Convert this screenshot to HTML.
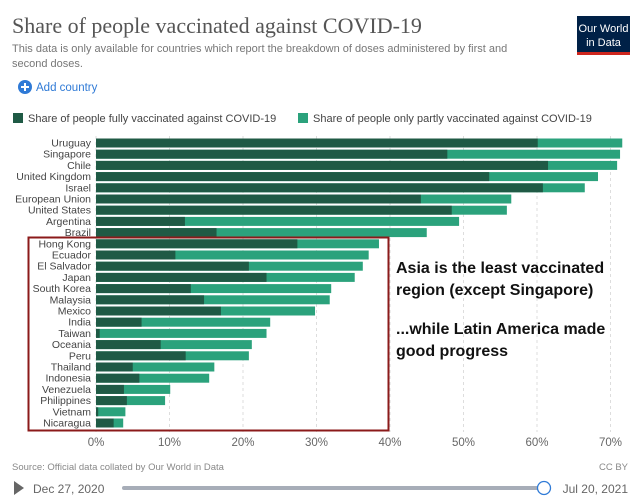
<!DOCTYPE html>
<html><head><meta charset="utf-8"><style>
body{margin:0;background:#fff;width:639px;height:500px;overflow:hidden;font-family:"Liberation Sans",sans-serif;}
svg{display:block}
</style></head><body>
<svg id="chart" width="639" height="500" xmlns="http://www.w3.org/2000/svg">
<text x="12" y="33" font-family="Liberation Serif,serif" font-size="22" fill="#555">Share of people vaccinated against COVID-19</text>
<text x="12" y="52" font-size="11" fill="#777">This data is only available for countries which report the breakdown of doses administered by first and</text>
<text x="12" y="67" font-size="11" fill="#777">second doses.</text>
<g><rect x="577" y="16" width="53" height="39" fill="#002147"/><rect x="577" y="52" width="53" height="3" fill="#ce261e"/>
<text x="603.5" y="32" font-size="11" fill="#fff" text-anchor="middle">Our World</text><text x="603.5" y="46" font-size="11" fill="#fff" text-anchor="middle">in Data</text></g>
<g><circle cx="25" cy="87" r="7" fill="#2f7ad6"/><path d="M21 87h8M25 83v8" stroke="#fff" stroke-width="2"/>
<text x="36" y="91" font-size="11.5" fill="#2f7ad6">Add country</text></g>
<g><rect x="13" y="113" width="10" height="10" fill="#1f5a45"/>
<text x="28" y="122" font-size="11" fill="#444">Share of people fully vaccinated against COVID-19</text>
<rect x="298" y="113" width="10" height="10" fill="#2ba27c"/>
<text x="313" y="122" font-size="11" fill="#444">Share of people only partly vaccinated against COVID-19</text></g>
<g id="grid"></g><g id="bars"></g><g id="ticks"></g>
<rect x="28.5" y="237.5" width="360" height="193" fill="none" stroke="#8b1a1a" stroke-width="2"/>
<g font-size="16" font-weight="bold" fill="#111">
<text x="396" y="273">Asia is the least vaccinated</text><text x="396" y="295">region (except Singapore)</text>
<text x="396" y="334">...while Latin America made</text><text x="396" y="356">good progress</text></g>
<text x="12" y="470" font-size="9.5" fill="#888">Source: Official data collated by Our World in Data</text>
<text x="628" y="470" font-size="9.5" fill="#888" text-anchor="end">CC BY</text>
<path d="M14 481l10 7-10 7z" fill="#666"/>
<text x="33" y="493" font-size="12" fill="#666">Dec 27, 2020</text>
<rect x="122" y="486" width="422" height="4" rx="2" fill="#a7adb8"/>
<circle cx="544" cy="488" r="6.5" fill="#fff" stroke="#2f7ad6" stroke-width="1.3"/>
<text x="628" y="493" font-size="12" fill="#666" text-anchor="end">Jul 20, 2021</text>
</svg>
<script>
const countries=["Uruguay","Singapore","Chile","United Kingdom","Israel","European Union","United States","Argentina","Brazil","Hong Kong","Ecuador","El Salvador","Japan","South Korea","Malaysia","Mexico","India","Taiwan","Oceania","Peru","Thailand","Indonesia","Venezuela","Philippines","Vietnam","Nicaragua"];
const fully=[60.1,47.8,61.5,53.5,60.8,44.2,48.4,12.1,16.4,27.4,10.8,20.8,23.2,12.9,14.7,17.0,6.2,0.5,8.8,12.2,5.0,5.9,3.8,4.2,0.3,2.4];
const total=[71.6,71.3,70.9,68.3,66.5,56.5,55.9,49.4,45.0,38.5,37.1,36.3,35.2,32.0,31.8,29.8,23.7,23.2,21.2,20.8,16.1,15.4,10.1,9.4,4.0,3.7];
const tickVals=[0,10,20,30,40,50,60,70];
const tickLabels=["0%","10%","20%","30%","40%","50%","60%","70%"];
const NS="http://www.w3.org/2000/svg";
const x=v=>96+7.35*v;
const y=i=>138.5+i*11.2;
function mk(t,a,p){const e=document.createElementNS(NS,t);for(const k in a)e.setAttribute(k,a[k]);p.appendChild(e);return e;}
const grid=document.getElementById('grid'),bars=document.getElementById('bars'),ticks=document.getElementById('ticks');
tickVals.forEach((v,i)=>{
 const l=mk('line',{x1:x(v),x2:x(v),y1:136,y2:432,stroke:'#ddd','stroke-dasharray':'3,3'},grid);
 
 
 const t=mk('text',{x:x(v),y:446,'font-size':11.5,fill:'#666','text-anchor':'middle'},ticks);t.textContent=tickLabels[i];
 
 
});
countries.forEach((c,i)=>{
 const t=mk('text',{x:91,y:y(i)+8,'font-size':10.5,fill:'#444','text-anchor':'end'},bars);t.textContent=c;
 
 
 const b2=mk('rect',{x:x(0),y:y(i),width:x(total[i])-x(0),height:9,fill:'#2ba27c'},bars);
 
 
 const b1=mk('rect',{x:x(0),y:y(i),width:x(fully[i])-x(0),height:9,fill:'#1f5a45'},bars);
 
 
});
</script>
</body></html>
